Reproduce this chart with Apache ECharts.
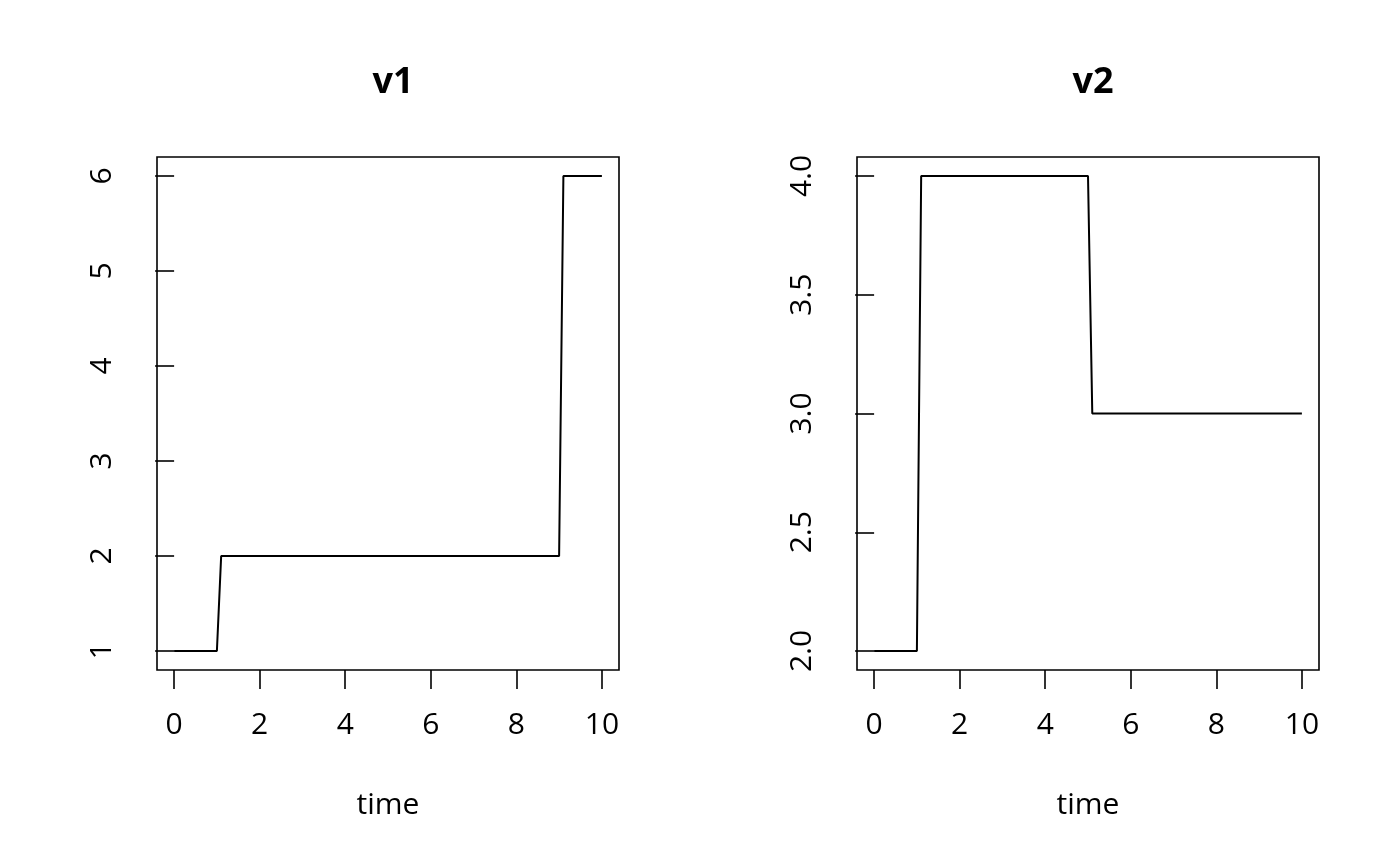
<!DOCTYPE html>
<html>
<head>
<meta charset="utf-8">
<script src="https://cdn.jsdelivr.net/npm/echarts@6/dist/echarts.min.js"></script>
<style>
html,body{margin:0;padding:0;background:#fff;}
#c{width:1400px;height:866px;}
</style>
</head>
<body>
<div id="c"></div>
<script>
// Data
const titles = ['v1', 'v2'];
const xTicks = [0, 2, 4, 6, 8, 10];
const v1Ticks = [1, 2, 3, 4, 5, 6];
const v2Ticks = [2.0, 2.5, 3.0, 3.5, 4.0];
const v1Time = [0, 1, 1.1, 9, 9.1, 10];
const v1Vals = [1, 1, 2, 2, 6, 6];
const v2Time = [0, 1, 1.1, 5, 5.1, 10];
const v2Vals = [2, 2, 4, 4, 3, 3];

const FONT = '"Open Sans", "Noto Sans", sans-serif';
const chart = echarts.init(document.getElementById('c'), null, {renderer: 'canvas'});

function pad(ticks) {
  const lo = ticks[0], hi = ticks[ticks.length - 1];
  const r = (hi - lo) * 0.04;
  return [lo - r, hi + r];
}

const grids = [
  {left: 157, top: 157, width: 462, height: 513},
  {left: 857, top: 157, width: 462, height: 513}
];

function xAxis(i) {
  const [mn, mx] = pad(xTicks);
  return {
    type: 'value', gridIndex: i, min: mn, max: mx,
    name: 'time', nameLocation: 'middle', nameGap: 120,
    nameTextStyle: {fontFamily: FONT, fontSize: 30, color: '#000'},
    axisLine: {show: false},
    axisTick: {show: true, length: 19, inside: false, customValues: xTicks, lineStyle: {color: '#000', width: 1.6}},
    axisLabel: {show: true, margin: 40, customValues: xTicks, fontFamily: FONT, fontSize: 30, color: '#000'},
    splitLine: {show: false}
  };
}

function yAxis(i, ticks, fmt) {
  const [mn, mx] = pad(ticks);
  return {
    type: 'value', gridIndex: i, min: mn, max: mx,
    axisLine: {show: false},
    axisTick: {show: true, length: 19, inside: false, customValues: ticks, lineStyle: {color: '#000', width: 1.6}},
    axisLabel: {show: true, margin: 40, rotate: 90, customValues: ticks, fontFamily: FONT, fontSize: 30, color: '#000', formatter: fmt},
    splitLine: {show: false}
  };
}

function pairs(t, v) { return t.map((x, k) => [x, v[k]]); }

const option = {
  animation: false,
  backgroundColor: '#fff',
  title: titles.map((t, i) => ({
    text: t,
    left: grids[i].left + grids[i].width / 2,
    top: 60,
    textAlign: 'center',
    textStyle: {fontFamily: FONT, fontSize: 36, fontWeight: 'bold', color: '#000'}
  })),
  grid: grids.map(g => Object.assign({show: true, borderColor: '#000', borderWidth: 1.6, backgroundColor: 'transparent'}, g)),
  xAxis: [xAxis(0), xAxis(1)],
  yAxis: [
    yAxis(0, v1Ticks, v => String(Math.round(v))),
    yAxis(1, v2Ticks, v => Number(v).toFixed(1))
  ],
  series: [
    {type: 'line', xAxisIndex: 0, yAxisIndex: 0, data: pairs(v1Time, v1Vals), showSymbol: false, symbol: 'none',
     lineStyle: {color: '#000', width: 2}, silent: true},
    {type: 'line', xAxisIndex: 1, yAxisIndex: 1, data: pairs(v2Time, v2Vals), showSymbol: false, symbol: 'none',
     lineStyle: {color: '#000', width: 2}, silent: true}
  ]
};
chart.setOption(option);
</script>
</body>
</html>
